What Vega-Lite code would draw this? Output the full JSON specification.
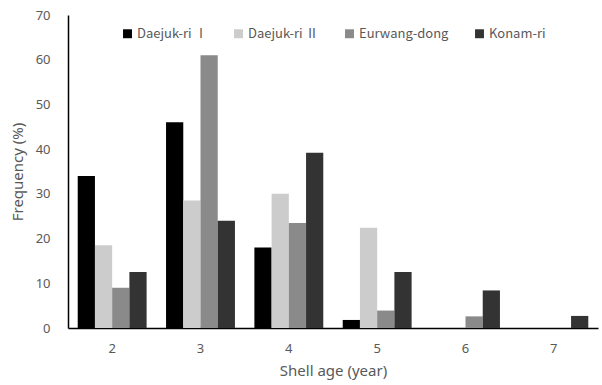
{
  "$schema": "https://vega.github.io/schema/vega-lite/v6.json",
  "width": 530,
  "height": 313,
  "autosize": "none",
  "padding": {"left": 68, "top": 15, "right": 4, "bottom": 57},
  "background": "white",
  "config": {
    "view": {"stroke": null},
    "font": "Noto Sans",
    "axis": {"labelColor": "#595959", "titleColor": "#595959", "labelFont": "Noto Sans", "titleFont": "Noto Sans", "titleFontWeight": "normal", "grid": false, "domainColor": "#000000", "domainWidth": 1.5}
  },
  "data": {
    "values": [
      {"age": "2", "site": "Daejuk-ri Ⅰ", "freq": 34},
      {"age": "2", "site": "Daejuk-ri Ⅱ", "freq": 18.5},
      {"age": "2", "site": "Eurwang-dong", "freq": 9},
      {"age": "2", "site": "Konam-ri", "freq": 12.5},
      {"age": "3", "site": "Daejuk-ri Ⅰ", "freq": 46},
      {"age": "3", "site": "Daejuk-ri Ⅱ", "freq": 28.5},
      {"age": "3", "site": "Eurwang-dong", "freq": 61},
      {"age": "3", "site": "Konam-ri", "freq": 24},
      {"age": "4", "site": "Daejuk-ri Ⅰ", "freq": 18},
      {"age": "4", "site": "Daejuk-ri Ⅱ", "freq": 30},
      {"age": "4", "site": "Eurwang-dong", "freq": 23.5},
      {"age": "4", "site": "Konam-ri", "freq": 39.2},
      {"age": "5", "site": "Daejuk-ri Ⅰ", "freq": 1.8},
      {"age": "5", "site": "Daejuk-ri Ⅱ", "freq": 22.4},
      {"age": "5", "site": "Eurwang-dong", "freq": 3.9},
      {"age": "5", "site": "Konam-ri", "freq": 12.5},
      {"age": "6", "site": "Daejuk-ri Ⅰ", "freq": 0},
      {"age": "6", "site": "Daejuk-ri Ⅱ", "freq": 0},
      {"age": "6", "site": "Eurwang-dong", "freq": 2.6},
      {"age": "6", "site": "Konam-ri", "freq": 8.4},
      {"age": "7", "site": "Daejuk-ri Ⅰ", "freq": 0},
      {"age": "7", "site": "Daejuk-ri Ⅱ", "freq": 0},
      {"age": "7", "site": "Eurwang-dong", "freq": 0},
      {"age": "7", "site": "Konam-ri", "freq": 2.7}
    ]
  },
  "mark": {"type": "bar"},
  "encoding": {
    "x": {
      "field": "age", "type": "nominal",
      "scale": {"paddingInner": 0.22, "paddingOuter": 0.11},
      "axis": {"title": "Shell age (year)", "labelAngle": 0, "ticks": false, "labelPadding": 14, "labelFontSize": 13, "titleFontSize": 15, "titlePadding": 8}
    },
    "xOffset": {"field": "site", "type": "nominal", "sort": ["Daejuk-ri Ⅰ", "Daejuk-ri Ⅱ", "Eurwang-dong", "Konam-ri"]},
    "y": {
      "field": "freq", "type": "quantitative",
      "scale": {"domain": [0, 70], "nice": false},
      "axis": {"title": "Frequency (%)", "values": [0, 10, 20, 30, 40, 50, 60, 70], "ticks": false, "labelPadding": 18, "labelFontSize": 13, "titleFontSize": 15, "titlePadding": 10}
    },
    "color": {
      "field": "site", "type": "nominal",
      "sort": ["Daejuk-ri Ⅰ", "Daejuk-ri Ⅱ", "Eurwang-dong", "Konam-ri"],
      "scale": {"range": ["#000000", "#cccccc", "#8a8a8a", "#333333"]},
      "legend": {
        "title": null, "orient": "none", "direction": "horizontal",
        "legendX": 53, "legendY": 12,
        "symbolType": "square", "symbolSize": 80, "symbolStrokeWidth": 0,
        "labelFontSize": 13, "labelColor": "#595959", "labelFont": "Noto Sans CJK KR",
        "columnPadding": 24, "labelOffset": 3
      }
    }
  }
}
